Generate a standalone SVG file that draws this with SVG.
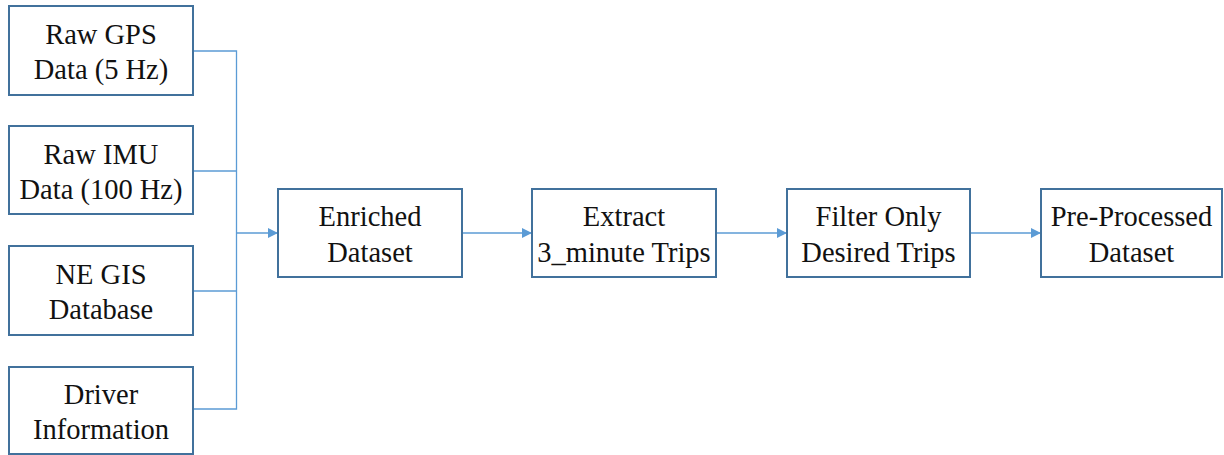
<svg xmlns="http://www.w3.org/2000/svg" width="1224" height="455" viewBox="0 0 1224 455">
<style>
.box{fill:#fff;stroke:#41719c;stroke-width:2}
.t{font-family:"Liberation Serif","Times New Roman",serif;font-size:28.5px;fill:#111;text-anchor:middle}
.c{fill:none;stroke:#5b9bd5;stroke-width:1.3}
</style>
<defs>
<marker id="ah" viewBox="0 0 10 10" refX="10" refY="5" markerWidth="10" markerHeight="10" markerUnits="userSpaceOnUse" orient="auto">
<path d="M0,0 L10,5 L0,10 z" fill="#5b9bd5"/>
</marker>
</defs>
<rect width="1224" height="455" fill="#fff"/>
<g id="connectors">
<path class="c" d="M193,51 H236.5 V409 H193"/>
<path class="c" d="M193,171 H236.5"/>
<path class="c" d="M193,291 H236.5"/>
<path class="c" d="M236.5,233 H278" marker-end="url(#ah)"/>
<path class="c" d="M462,233 H532" marker-end="url(#ah)"/>
<path class="c" d="M716,233 H787" marker-end="url(#ah)"/>
<path class="c" d="M970,233 H1041" marker-end="url(#ah)"/>
</g>
<g id="gps"><rect class="box" x="9" y="6" width="184" height="89"/><text class="t" x="101" y="44">Raw GPS</text><text class="t" x="101" y="79">Data (5 Hz)</text></g>
<g id="imu"><rect class="box" x="9" y="126" width="184" height="88"/><text class="t" x="101" y="164">Raw IMU</text><text class="t" x="101" y="199">Data (100 Hz)</text></g>
<g id="gis"><rect class="box" x="9" y="246" width="184" height="89"/><text class="t" x="101" y="284">NE GIS</text><text class="t" x="101" y="319">Database</text></g>
<g id="driver"><rect class="box" x="9" y="367" width="184" height="87"/><text class="t" x="101" y="404">Driver</text><text class="t" x="101" y="439">Information</text></g>
<g id="enriched"><rect class="box" x="278" y="189" width="184" height="88"/><text class="t" x="370" y="226">Enriched</text><text class="t" x="370" y="262">Dataset</text></g>
<g id="extract"><rect class="box" x="532" y="189" width="184" height="88"/><text class="t" x="624" y="226">Extract</text><text class="t" x="624" y="262">3_minute Trips</text></g>
<g id="filter"><rect class="box" x="787" y="189" width="183" height="88"/><text class="t" x="878.5" y="226">Filter Only</text><text class="t" x="878.5" y="262">Desired Trips</text></g>
<g id="preprocessed"><rect class="box" x="1041" y="189" width="181" height="88"/><text class="t" x="1131.5" y="226">Pre-Processed</text><text class="t" x="1131.5" y="262">Dataset</text></g>
</svg>
